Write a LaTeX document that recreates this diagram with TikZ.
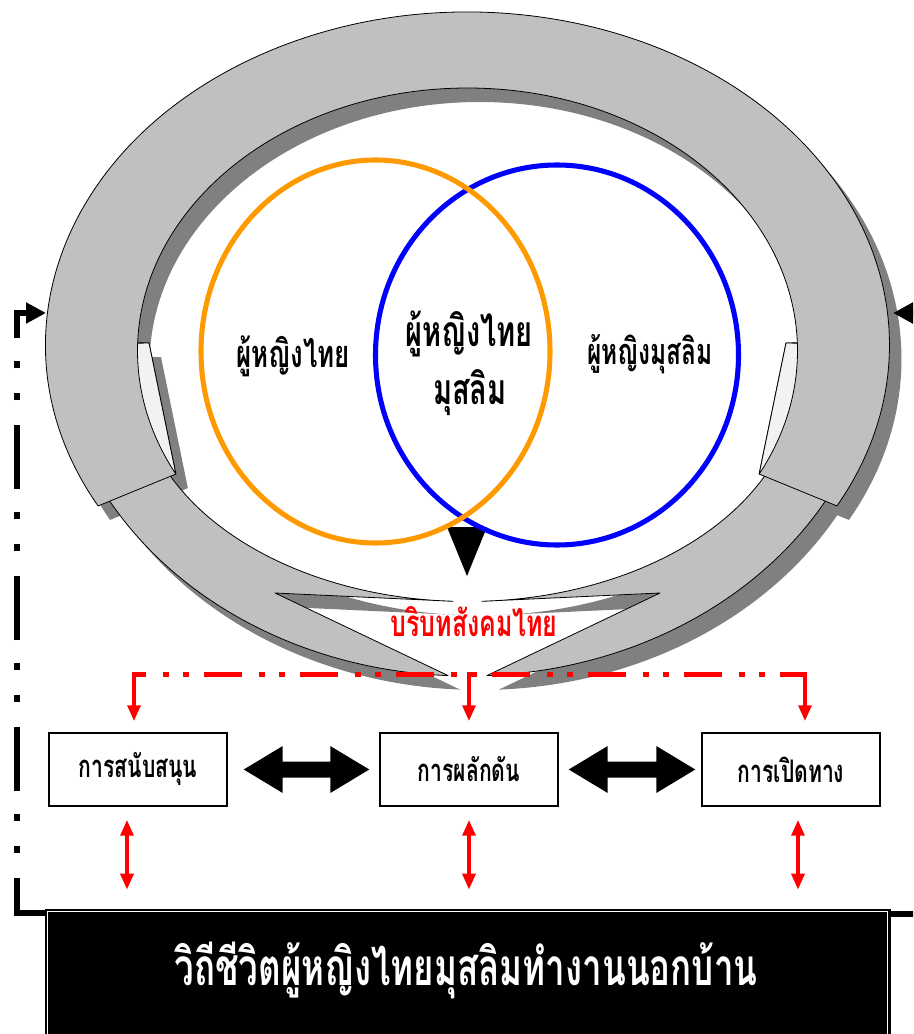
\documentclass[tikz,border=0pt]{standalone}
\usepackage{fontspec}
\newfontfamily\thai[Script=Thai,FakeStretch=0.68]{Loma}
\usetikzlibrary{arrows.meta,calc}
\definecolor{ringgray}{HTML}{C0C0C0}
\definecolor{shadowgray}{HTML}{808080}
\definecolor{vorange}{HTML}{FF9900}
\definecolor{vblue}{HTML}{0000FF}
\definecolor{vred}{HTML}{FF0000}
\tikzset{
  upperpath/.style={insert path={
    ([shift={(467.5,-345)}]208.9:422 and 333)
    arc[start angle=208.9,end angle=-28.9,x radius=422,y radius=333]
    -- ([shift={(467.5,-351)}]-27.9:330 and 263)
    -- (786,-343)
    -- ([shift={(467.5,-351)}]1.7:330 and 263)
    arc[start angle=1.7,end angle=178.3,x radius=330,y radius=263]
    -- (149,-343)
    -- ([shift={(467.5,-351)}]207.9:330 and 263)
    -- cycle}},
  leftarmpath/.style={insert path={
    ([shift={(467.5,-329)}]182.3:412 and 347)
    arc[start angle=182.3,end angle=267.3,x radius=412,y radius=347]
    -- (275,-593)
    -- ([shift={(467.5,-379.5)}]267.5:330 and 222)
    arc[start angle=267.5,end angle=170.5,x radius=330,y radius=222]
    -- cycle}},
  rightarmpath/.style={insert path={
    ([shift={(467.5,-329)}]-2.3:412 and 347)
    arc[start angle=-2.3,end angle=-87.3,x radius=412,y radius=347]
    -- (660,-593)
    -- ([shift={(467.5,-379.5)}]-87.5:330 and 222)
    arc[start angle=-87.5,end angle=9.5,x radius=330,y radius=222]
    -- cycle}},
  bandstyle/.style={fill=ringgray,draw=black,line width=0.6pt,line join=round},
  shadowstyle/.style={fill=shadowgray,shift={(12,-14)}},
  tabstyle/.style={fill=gray!10,draw=black,line width=0.6pt,line join=round},
  thaitext/.style={inner sep=0pt,font=\thai\bfseries},
  boxstyle/.style={draw=black,line width=1.1pt,fill=white,minimum width=133.5pt,minimum height=54.75pt,inner sep=0pt,font=\thai\bfseries\fontsize{23.3pt}{26pt}\selectfont},
  redarrow/.style={draw=vred,line width=3pt,-{Triangle[length=12pt,width=9.5pt]}},
  reddbl/.style={draw=vred,line width=3pt,{Triangle[length=12pt,width=9.5pt]}-{Triangle[length=12pt,width=9.5pt]}},
  reddash/.style={draw=vred,line width=3.75pt,dash pattern=on 28.5pt off 12.75pt on 4.5pt off 10.5pt on 4.5pt off 11.25pt,dash phase=19.5pt},
  blackdash/.style={draw=black,line width=4.5pt,dash pattern=on 48pt off 18.75pt on 5.25pt off 18.75pt on 5.25pt off 17.25pt,-{Triangle[length=15pt,width=15pt]}},
}
\begin{document}
\begin{tikzpicture}[x=0.75pt,y=0.75pt]
\useasboundingbox (0,0) rectangle (913,-1034);
\clip (0,0) rectangle (913,-1034);
\fill[white] (0,0) rectangle (913,-1034);

% ring: shadows, arms, upper band
\fill[shadowstyle,leftarmpath];
\fill[shadowstyle,rightarmpath];
\fill[shadowstyle,upperpath];
\path[bandstyle,leftarmpath];
\path[bandstyle,rightarmpath];
\path[bandstyle,upperpath];
\path[tabstyle] (149,-343) -- ([shift={(467.5,-351)}]207.9:330 and 263)
  arc[start angle=207.9,end angle=178.3,x radius=330,y radius=263] -- cycle;
\path[tabstyle] (786,-343) -- ([shift={(467.5,-351)}]-27.9:330 and 263)
  arc[start angle=-27.9,end angle=1.7,x radius=330,y radius=263] -- cycle;

% pointer triangle
\fill[black] (447,-527) -- (487,-527) -- (467,-576) -- cycle;

% Venn circles
\draw[vblue,line width=3.8pt] (557,-355) ellipse[x radius=181.5,y radius=190];
\draw[vorange,line width=3.8pt] (375.5,-351.5) ellipse[x radius=174.5,y radius=191.5];

% texts in circles
\node[thaitext,anchor=base,font=\thai\bfseries\fontsize{28.5pt}{30pt}\selectfont] (tleft) at (293,-367) {ผู้หญิงไทย};
\node[thaitext,anchor=base,font=\thai\bfseries\fontsize{27pt}{30pt}\selectfont] (tright) at (650,-364) {ผู้หญิงมุสลิม};
\node[thaitext,anchor=base,font=\thai\bfseries\fontsize{32pt}{34pt}\selectfont] (tmid1) at (469,-346) {ผู้หญิงไทย};
\node[thaitext,anchor=base,font=\thai\bfseries\fontsize{32pt}{34pt}\selectfont] (tmid2) at (470,-404) {มุสลิม};

% context label
\node[thaitext,anchor=base,text=vred,font=\thai\bfseries\fontsize{27.5pt}{30pt}\selectfont] (ctx) at (474,-636) {บริบทสังคมไทย};

% boxes
\node[boxstyle] (b1) at (138,-769.5) {การสนับสนุน};
\node[boxstyle] (b2) at (469,-769.5) {การผลักดัน};
\node[boxstyle] (b3) at (791,-769.5) {การเปิดทาง};

% red dash-dot distribution line
\coordinate (dl) at (134,-674);
\coordinate (dm) at (469,-674);
\coordinate (dr) at (805,-674);
\draw[reddash] (dl) -- (dr);
\draw[redarrow,shorten >=8.25pt] ([yshift=1.4pt]dl) -- (dl |- b1.north);
\draw[redarrow,shorten >=8.25pt] ([yshift=1.4pt]dm) -- (dm |- b2.north);
\draw[redarrow,shorten >=8.25pt] ([yshift=1.4pt]dr) -- (dr |- b3.north);

% black block double arrows
\coordinate (a1) at ([xshift=12pt]b1.east);
\coordinate (a2) at ([xshift=-7.5pt]b2.west);
\coordinate (a3) at ([xshift=7.5pt]b2.east);
\coordinate (a4) at ([xshift=-4.5pt]b3.west);
\fill[black] (a1) -- ++(39,23.5) -- ++(0,-15.5) -- ($(a2)+(-39,8)$) -- ++(0,15.5) -- (a2)
  -- ++(-39,-23.5) -- ++(0,15.5) -- ($(a1)+(39,-8)$) -- ++(0,-15.5) -- cycle;
\fill[black] (a3) -- ++(39,23.5) -- ++(0,-15.5) -- ($(a4)+(-39,8)$) -- ++(0,15.5) -- (a4)
  -- ++(-39,-23.5) -- ++(0,15.5) -- ($(a3)+(39,-8)$) -- ++(0,-15.5) -- cycle;

% bottom bar
\node[fill=black,draw=black,minimum width=633.75pt,minimum height=105.75pt,inner sep=0pt] (bar) at (467.5,-979.5) {};
\draw[white,line width=0.9pt] ([shift={(3,-3)}]bar.north west) rectangle ([shift={(-3,3)}]bar.south east);
\node[thaitext,anchor=base,text=white,font=\thai\bfseries\fontsize{38.5pt}{44pt}\selectfont] (bartext) at (466,-985) {วิถีชีวิตผู้หญิงไทยมุสลิมทำงานนอกบ้าน};

% red double arrows boxes <-> bar
\coordinate (x1) at (127,0);
\coordinate (x2) at (469,0);
\coordinate (x3) at (798,0);
\draw[reddbl,shorten <=9.75pt,shorten >=14.25pt] (b1.south -| x1) -- (bar.north -| x1);
\draw[reddbl,shorten <=9.75pt,shorten >=14.25pt] (b2.south -| x2) -- (bar.north -| x2);
\draw[reddbl,shorten <=9.75pt,shorten >=14.25pt] (b3.south -| x3) -- (bar.north -| x3);

% black feedback lines
\coordinate (lb) at (46,-913);
\coordinate (lt) at (46,-313);
\coordinate (rb) at (890,-914);
\coordinate (rt) at (893,-313);
\draw[blackdash] (lb) -- (17,-913) -- (17,-313) -- (lt);
\draw[blackdash] (rb) -- (935,-914) -- (935,-313) -- (rt);
\end{tikzpicture}
\end{document}
